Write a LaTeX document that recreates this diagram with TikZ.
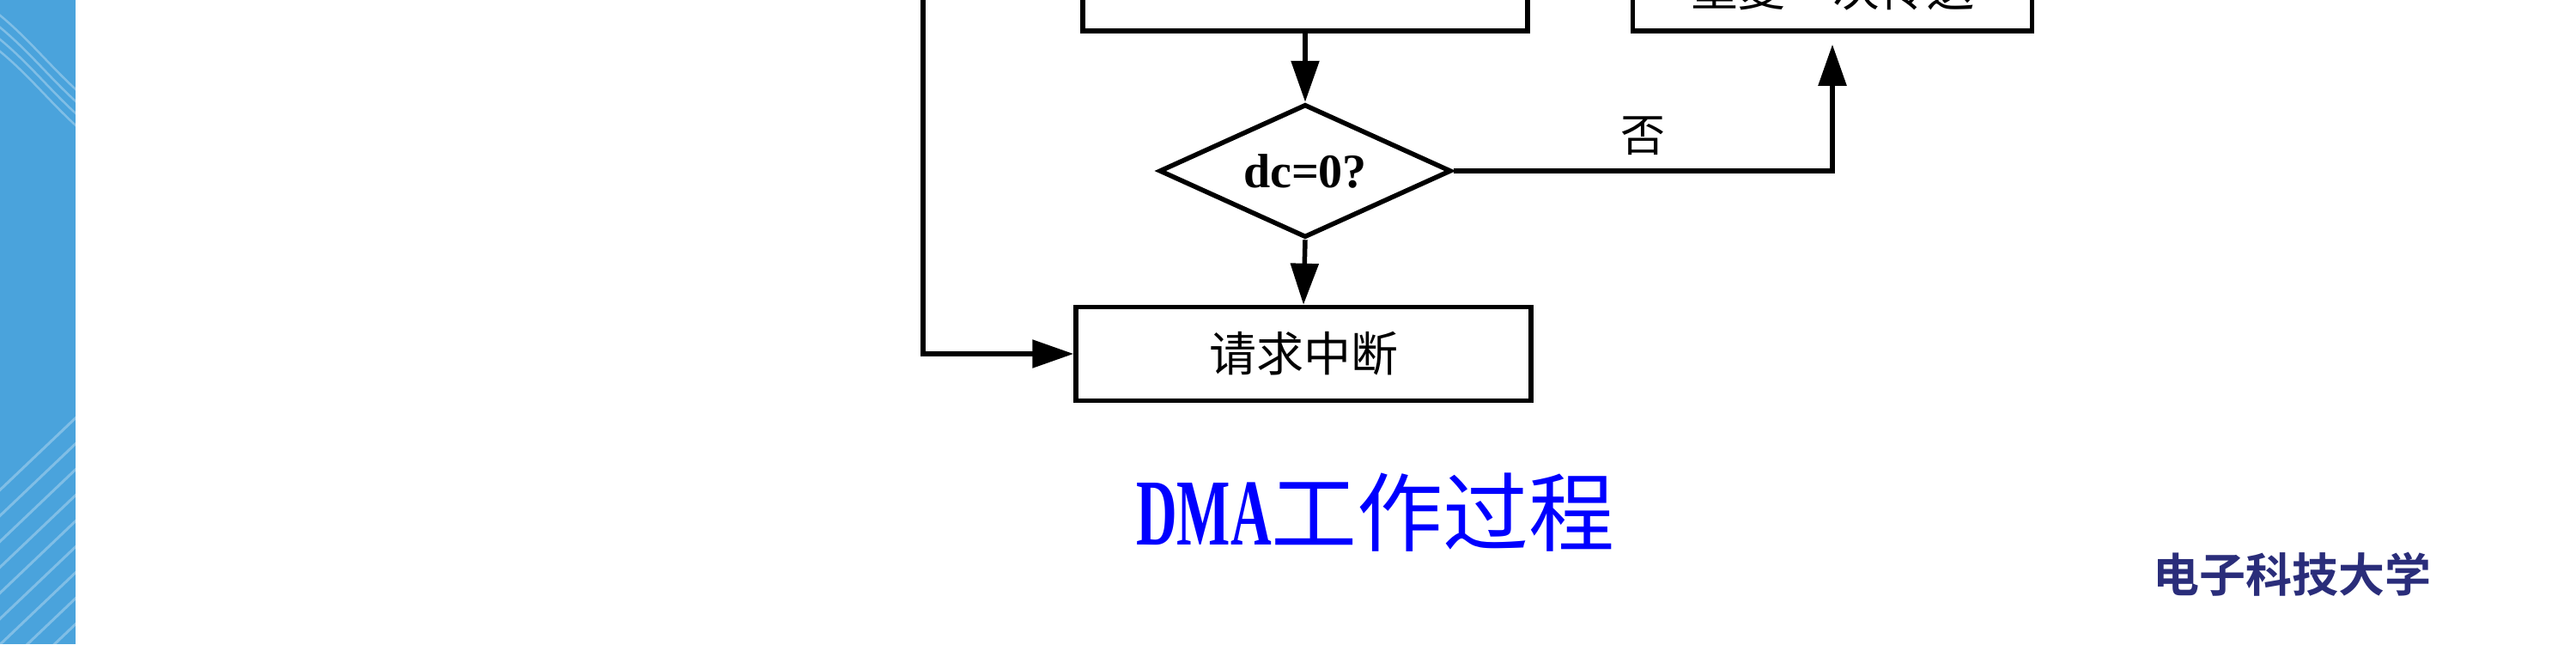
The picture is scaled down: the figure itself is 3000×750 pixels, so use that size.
\documentclass[tikz,border=0pt]{standalone}
\usepackage{fontspec}
\setmainfont{Liberation Serif}
\newfontfamily\cjk{Noto Sans CJK SC}[BoldFont={* Bold}]
\newfontfamily\titlelatin{Liberation Serif}[FakeStretch=0.6]
\usetikzlibrary{shapes.geometric,arrows.meta}
\definecolor{stripblue}{RGB}{74,163,220}
\definecolor{schoolblue}{RGB}{42,45,122}
\definecolor{titleblue}{RGB}{0,0,255}

\tikzset{
  flowbox/.style={draw, line width=5.5pt, inner sep=0pt, font=\cjk\fontsize{55}{60}\selectfont},
  decide/.style={diamond, draw, line width=5.5pt, inner sep=0pt, aspect=2.2,
    minimum width=340pt, minimum height=155pt, font=\bfseries\fontsize{56}{60}\selectfont},
  flow/.style={line width=5.5pt, -{Triangle[length=48pt,width=32pt]}},
}

\begin{document}
\begin{tikzpicture}[x=1pt,y=-1pt]
\useasboundingbox (0,0) rectangle (3000,750);
\clip (0,0) rectangle (3000,750);
\fill[white] (0,0) rectangle (3000,750);

% blue strip on the left
\begin{scope}
\clip (0,0) rectangle (88,750);
\fill[stripblue] (0,0) rectangle (88,750);
\foreach \dy in {0,14,28,42}
  \draw[white, opacity=0.3, line width=2.5pt] (-10,10+\dy) .. controls (30,40+\dy) and (60,80+\dy) .. (95,110+\dy);
\foreach \dy in {0,30,...,240}
  \draw[white, opacity=0.3, line width=3pt] (-10,700+\dy-120) -- (95,600+\dy-120);
\end{scope}

% flowchart nodes
\node[flowbox, minimum width=518pt, minimum height=100pt] (move) at (1520,-14) {};
\node[flowbox, minimum width=465pt, minimum height=98pt] (next) at (2134,-13) {重复一次传送};
\node[decide] (dc) at (1520,199) {dc=0?};
\node[flowbox, minimum width=530pt, minimum height=109pt] (req) at (1518,412) {请求中断};
\coordinate (loop) at (1075,-20);

% connectors
\draw[flow] (move.south) -- (dc.north);
\draw[flow] (dc.south) -- (req.north);
\draw[flow, shorten >=13pt] (dc.east) -| node[pos=0.25, above, inner sep=0pt, yshift=16pt, font=\cjk\fontsize{52}{56}\selectfont] {否} (next.south);
\draw[flow] (loop) |- (req.west);

% title and school name
\node[anchor=base, text=titleblue] (title) at (1602,634)
  {{\titlelatin\bfseries\fontsize{110}{120}\selectfont DMA}{\cjk\fontsize{100}{110}\selectfont 工作过程}};
\node[anchor=base, text=schoolblue, font=\cjk\bfseries\fontsize{54}{60}\selectfont] (school) at (2669,689) {电子科技大学};
\end{tikzpicture}
\end{document}
